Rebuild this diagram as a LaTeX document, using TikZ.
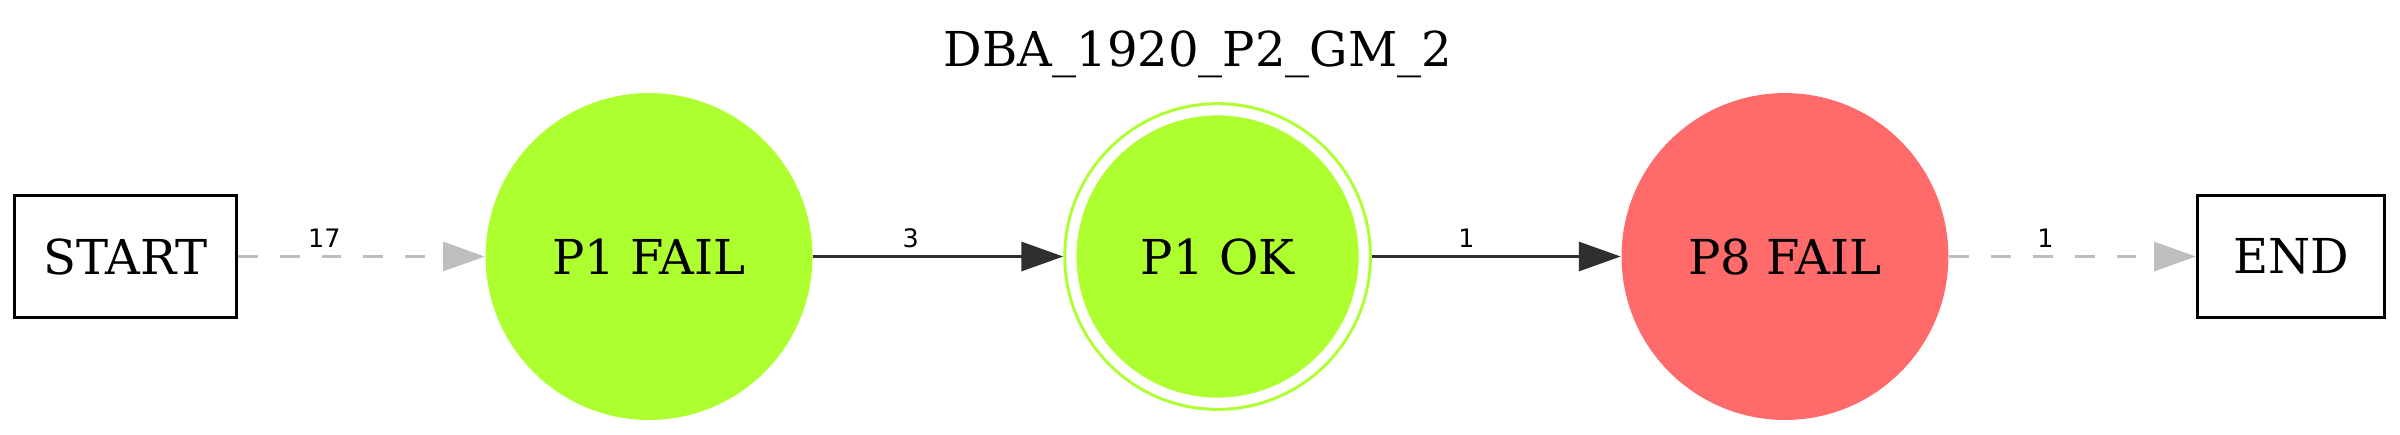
\documentclass[tikz,border=0pt]{standalone}
\usepackage{fontspec}
\setmainfont{DejaVu Serif}
\newfontfamily\edgefont{DejaVu Sans}
\usetikzlibrary{arrows.meta}
\definecolor{okgreen}{HTML}{ADFF2F}
\definecolor{failred}{HTML}{FF6A6A}
\definecolor{edgegray}{HTML}{BEBEBE}
\definecolor{edgedark}{HTML}{2F2F2F}

\begin{document}
\begin{tikzpicture}[x=1pt, y=1pt,
	every node/.style={font=\fontsize{12.3}{14}\selectfont},
	termbox/.style={draw, line width=0.77pt, rectangle, minimum height=31pt},
	state/.style={circle, inner sep=0pt, minimum size=83.6pt},
	okstate/.style={circle, inner sep=0pt, minimum size=74.8pt, fill=okgreen, draw=okgreen, line width=0.77pt, double=white, double distance=2.6pt, outer sep=2.07pt},
	lbl/.style={font=\edgefont\fontsize{6.5}{7}\selectfont, text=black, anchor=base, yshift=2.2pt, inner sep=0pt},
	flow/.style={line width=0.8pt, edgedark, -{Triangle[length=10.7pt, width=7.4pt]}},
	ghost/.style={line width=0.8pt, edgegray, dash pattern=on 5.1pt off 5.6pt, -{Triangle[length=10.7pt, width=7.4pt]}}]
	\useasboundingbox (0,0) rectangle (613.8,111);
	\node[anchor=base] (title) at (306.4, 93.9) {DBA\_1920\_P2\_GM\_2};
	\node[termbox, minimum width=56.7pt] (start) at (32.1, 45.4) {START};
	\node[state, fill=okgreen] (p1fail) at (166.0, 45.4) {P1 FAIL};
	\node[okstate] (p1ok) at (311.4, 45.4) {P1 OK};
	\node[state, fill=failred] (p8fail) at (456.5, 45.4) {P8 FAIL};
	\node[termbox, minimum width=47.8pt] (end) at (585.9, 45.4) {END};
	\draw[ghost] (start) -- (p1fail) node[lbl, pos=0.35]{17};
	\draw[flow] (p1fail) -- (p1ok) node[lbl, pos=0.39]{3};
	\draw[flow] (p1ok) -- (p8fail) node[lbl, pos=0.38]{1};
	\draw[ghost] (p8fail) -- (end) node[lbl, pos=0.39]{1};
\end{tikzpicture}
\end{document}
